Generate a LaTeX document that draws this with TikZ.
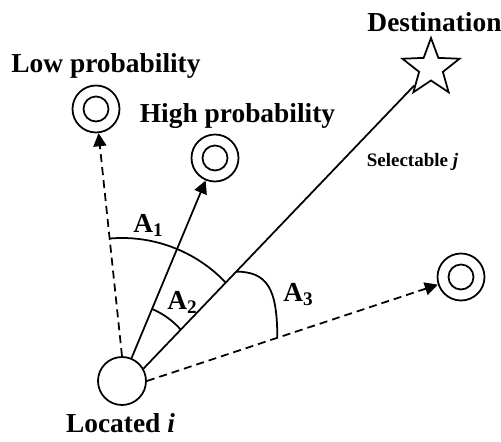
\documentclass[tikz,border=0pt]{standalone}
\usepackage{fontspec}
\setmainfont{Liberation Serif}
\usepackage{tikz}
\usetikzlibrary{arrows.meta,shapes.geometric}

\begin{document}
\begin{tikzpicture}[x=1cm,y=1cm,>=Latex,
  every node/.style={font=\fontsize{15.6}{18}\selectfont\bfseries},
  place/.style={draw,circle,line width=1pt,minimum size=0.96cm,inner sep=0pt},
  target/.style={draw,circle,line width=1pt,minimum size=0.94cm,inner sep=0pt,
    path picture={\draw[line width=1pt] (path picture bounding box.center) circle[radius=0.25cm];}},
  goal/.style={draw,star,star points=5,star point ratio=2.4,line width=1pt,minimum size=1.2cm,inner sep=0pt},
  txt/.style={anchor=base,inner sep=0pt},
  arrow/.style={-{Triangle[length=0.26cm,width=0.26cm]},line width=1pt},
  dasharrow/.style={arrow,dash pattern=on 0.16cm off 0.1cm},
  ray/.style={line width=1pt},
  sector/.style={line width=1pt}
]
\useasboundingbox (0,0) rectangle (10.02,8.84);
\node[place] (loc) at (2.44,1.22) {};
\node[target] (low) at (1.92,6.66) {};
\node[target] (high) at (4.30,5.68) {};
\node[target] (right) at (9.22,3.30) {};
\node[goal] (dest) at (8.62,7.48) {};
\node[txt] (loctext) at (2.41,0.18) {Located \textit{i}};
\node[txt] (lowtext) at (2.12,7.38) {Low probability};
\node[txt] (hightext) at (4.75,6.38) {High probability};
\node[txt] (desttext) at (8.69,8.21) {Destination};
\node[txt,font=\fontsize{10.8}{13}\selectfont\bfseries] (seltext) at (8.25,5.50) {Selectable \textit{j}};
\node[txt,anchor=base west] (aone) at (2.66,4.18) {A\textsubscript{1}};
\node[txt,anchor=base west] (atwo) at (3.34,2.64) {A\textsubscript{2}};
\node[txt,anchor=base west] (athree) at (5.66,2.80) {A\textsubscript{3}};
\draw[dasharrow] (loc.north) -- (low);
\draw[arrow] (loc) -- (high);
\draw[ray] (loc.30) -- (dest);
\draw[dasharrow] (loc.east) -- (right);
\draw[sector] ([shift={(95:2.86)}]loc.center) arc[start angle=95,end angle=43.55,radius=2.86];
\draw[sector] ([shift={(67.4:1.56)}]loc.center) arc[start angle=67.4,end angle=41.3,radius=1.56];
\draw[sector] (4.72,3.407) .. controls (5.34,3.407) and (5.546,3.077) .. (5.546,2.087);
\end{tikzpicture}
\end{document}
